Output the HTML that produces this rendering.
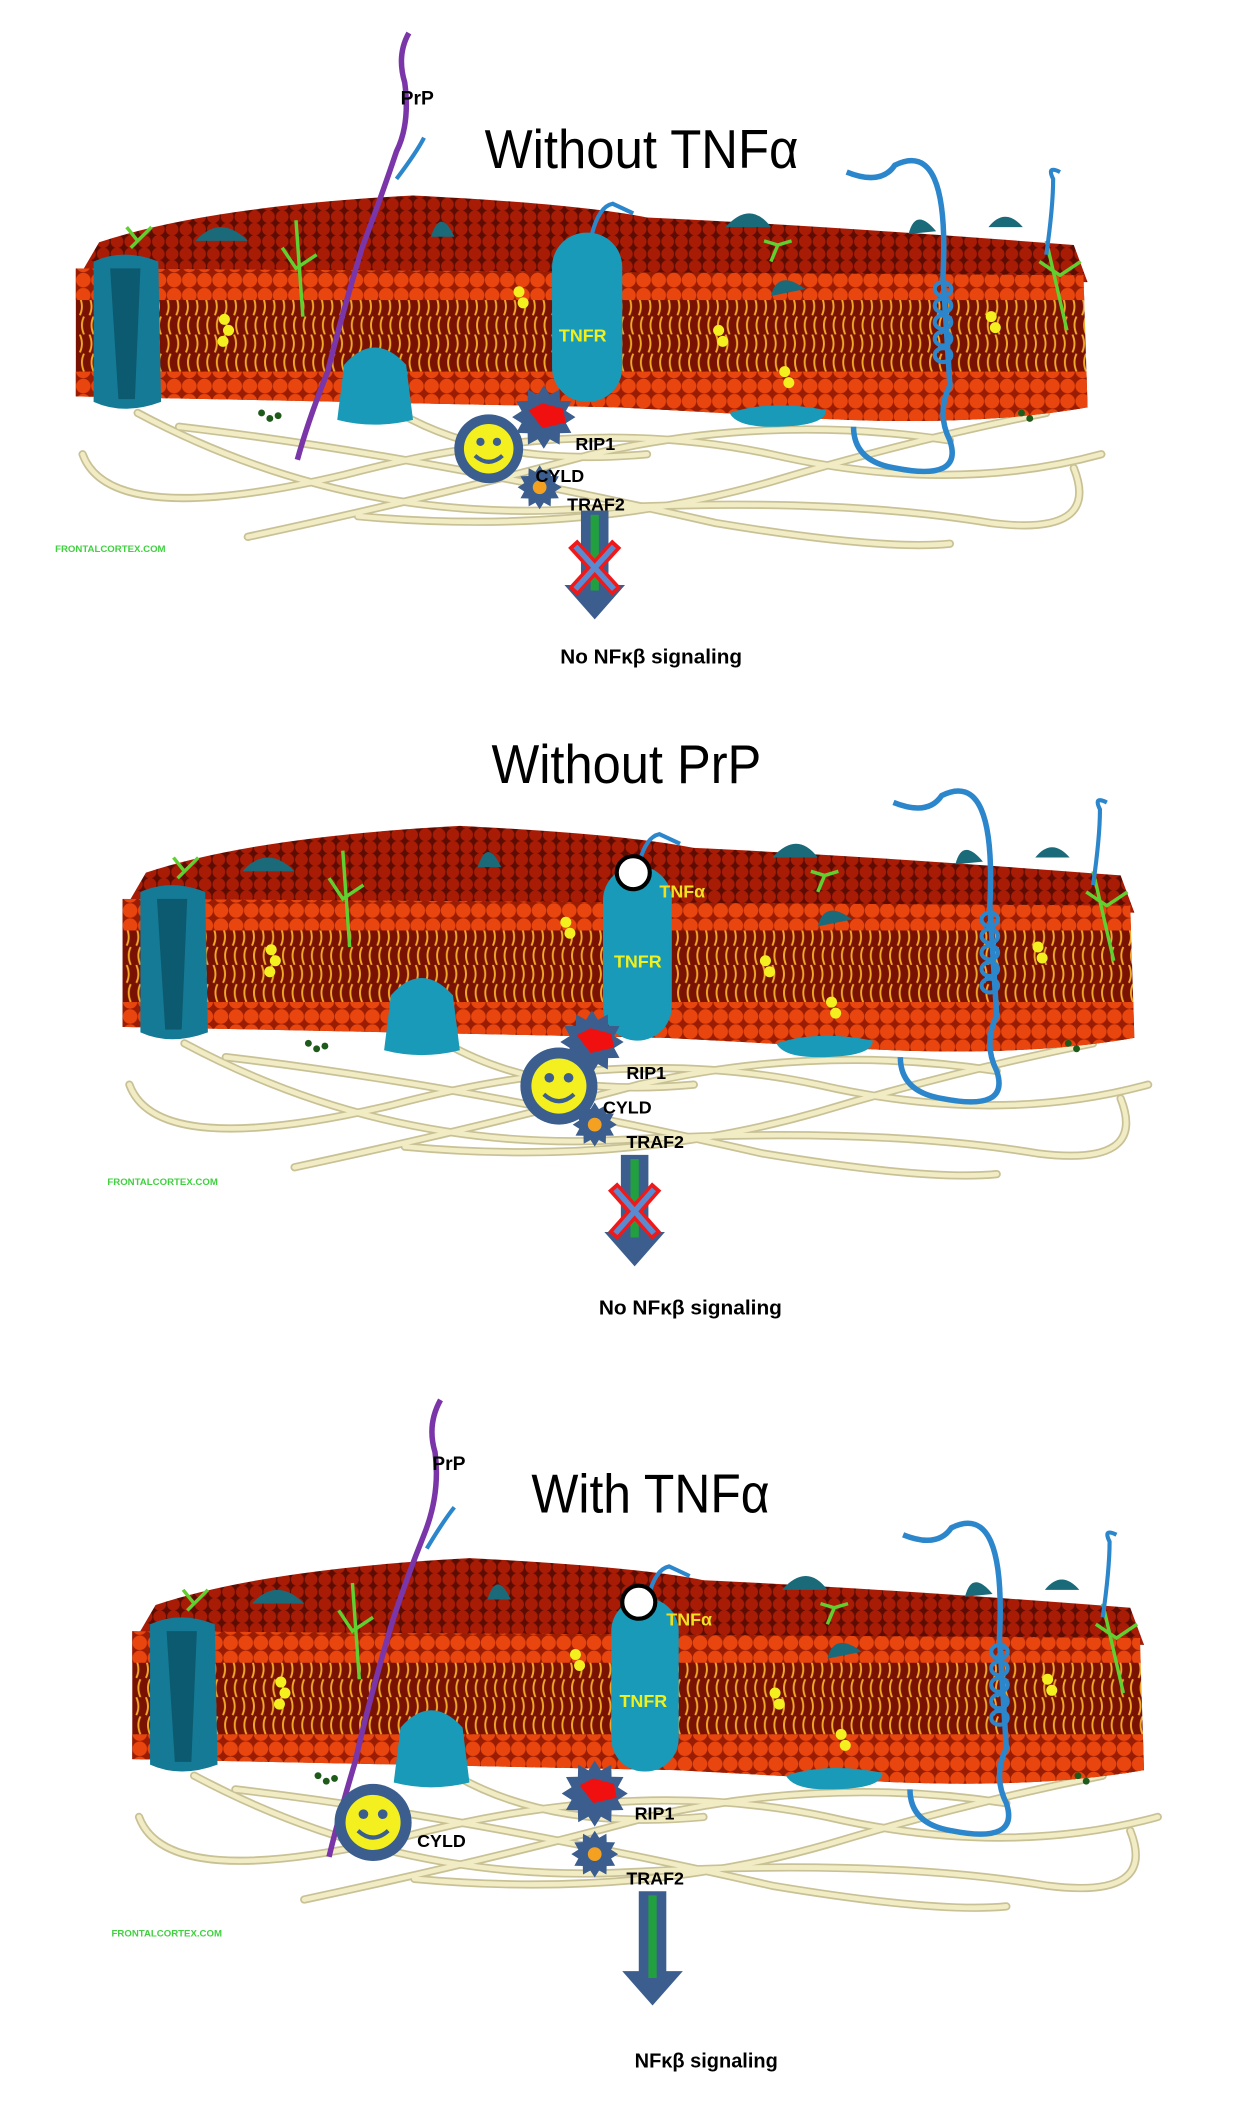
<!DOCTYPE html>
<html><head><meta charset="utf-8"><style>
html,body{margin:0;padding:0;background:#fff;}
svg{display:block;}
text{font-family:"Liberation Sans",sans-serif;}
</style></head><body>
<svg width="1239" height="2106" viewBox="0 0 900 1530" preserveAspectRatio="none" xmlns="http://www.w3.org/2000/svg">
<defs>
<pattern id="heads" width="11" height="11" patternUnits="userSpaceOnUse">
<rect width="11" height="11" fill="#9a1c02"/><circle cx="5.5" cy="5.5" r="5.3" fill="#e8460e"/>
</pattern>
<pattern id="tophead" width="10" height="9" patternUnits="userSpaceOnUse">
<rect width="10" height="9" fill="#5e0c02"/><circle cx="5" cy="4.5" r="4.6" fill="#a81c06"/>
</pattern>
<pattern id="tails" width="7" height="27" patternUnits="userSpaceOnUse">
<rect width="7" height="27" fill="#7a1204"/>
<path d="M2,0 Q5,7 2,13 M5,14 Q2,20 5,27" stroke="#f0a828" stroke-width="1.4" fill="none"/>
</pattern>
<symbol id="star" viewBox="-1 -1 2 2">
<polygon fill="#3b5e8e" points="1,0 .70,.19 .87,.5 .51,.51 .5,.87 .19,.70 0,1 -.19,.70 -.5,.87 -.51,.51 -.87,.5 -.70,.19 -1,0 -.70,-.19 -.87,-.5 -.51,-.51 -.5,-.87 -.19,-.70 0,-1 .19,-.70 .5,-.87 .51,-.51 .87,-.5 .70,-.19"/>
</symbol>
<g id="fil">
<g fill="none" stroke="#c9c196" stroke-width="6" stroke-linecap="round">
<path d="M60,330 Q80,385 250,345 Q420,300 560,330 Q690,360 800,330"/>
<path d="M100,300 Q250,380 420,370 Q600,360 720,380 Q800,390 780,340"/>
<path d="M180,390 Q320,360 430,330 Q560,300 690,320"/>
<path d="M130,310 Q300,330 520,380 Q640,400 690,395"/>
<path d="M260,375 Q420,390 560,350 Q660,320 760,300"/>
<path d="M290,300 Q360,340 470,330"/>
</g>
<g fill="none" stroke="#f2ecc4" stroke-width="3.5" stroke-linecap="round">
<path d="M60,330 Q80,385 250,345 Q420,300 560,330 Q690,360 800,330"/>
<path d="M100,300 Q250,380 420,370 Q600,360 720,380 Q800,390 780,340"/>
<path d="M180,390 Q320,360 430,330 Q560,300 690,320"/>
<path d="M130,310 Q300,330 520,380 Q640,400 690,395"/>
<path d="M260,375 Q420,390 560,350 Q660,320 760,300"/>
<path d="M290,300 Q360,340 470,330"/>
</g>
</g>
<clipPath id="front"><path d="M55,195 L787,200 L790,296 Q700,312 560,302 L450,296 L55,288 Z"/></clipPath>
<g id="mem">
<use href="#fil"/>
<path d="M58,200 L72,176 Q150,150 300,142 Q420,148 470,158 Q600,164 780,178 L790,205 Z" fill="url(#tophead)"/>
<g clip-path="url(#front)">
<rect x="40" y="190" width="780" height="130" fill="url(#tails)"/>
<rect x="40" y="188" width="780" height="30" fill="url(#heads)"/>
<rect x="40" y="270" width="780" height="45" fill="url(#heads)"/>
</g>
<path d="M68,190 Q90,180 115,190 L117,292 Q90,302 68,292 Z" fill="#157a96"/>
<path d="M80,195 L102,195 L98,290 L86,290 Z" fill="#0c5a70"/>
<path d="M245,305 L250,265 Q272,240 295,265 L300,305 Q272,312 245,305 Z" fill="#189ab8"/>
<path d="M142,175 Q160,155 180,175 Z" fill="#1a6a7a"/>
<path d="M313,172 Q320,150 330,172 Z" fill="#1a6a7a"/>
<path d="M527,165 Q545,145 560,165 Z" fill="#1a6a7a"/>
<path d="M660,170 Q665,150 680,168 Z" fill="#1a6a7a"/>
<path d="M718,165 Q730,150 743,165 Z" fill="#1a6a7a"/>
<path d="M560,215 Q565,195 585,210 Z" fill="#1a6a7a"/>
<path d="M530,300 Q560,290 600,298 Q600,310 560,310 Q535,310 530,300Z" fill="#189ab8"/>
<g stroke="#60d030" stroke-width="2.5" fill="none">
<path d="M215,160 L220,230 M205,180 L215,195 L230,185"/>
<path d="M95,180 L110,165 M100,175 L92,165"/>
<path d="M760,175 L775,240 M755,190 L770,200 L785,190"/>
<path d="M560,190 L565,178 L575,175 M565,178 L555,175"/>
</g>
<g fill="#f4f020">
<circle cx="163" cy="232" r="4"/><circle cx="166" cy="240" r="4"/><circle cx="162" cy="248" r="4"/>
<circle cx="377" cy="212" r="4"/><circle cx="380" cy="220" r="4"/>
<circle cx="522" cy="240" r="4"/><circle cx="525" cy="248" r="4"/>
<circle cx="570" cy="270" r="4"/><circle cx="573" cy="278" r="4"/>
<circle cx="720" cy="230" r="4"/><circle cx="723" cy="238" r="4"/>
</g>
<g fill="#1e5a1a"><circle cx="190" cy="300" r="2.5"/><circle cx="196" cy="304" r="2.5"/><circle cx="202" cy="302" r="2.5"/><circle cx="742" cy="300" r="2.5"/><circle cx="748" cy="304" r="2.5"/></g>
<path d="M615,125 Q640,135 650,120 Q690,100 685,200 L690,280 Q680,300 690,320 Q700,350 650,340 Q620,335 620,310" stroke="#2c86cc" stroke-width="4" fill="none"/>
<g stroke="#2c86cc" stroke-width="3" fill="none">
<ellipse cx="685" cy="210" rx="6" ry="5"/><ellipse cx="685" cy="222" rx="6" ry="5"/><ellipse cx="685" cy="234" rx="6" ry="5"/><ellipse cx="685" cy="246" rx="6" ry="5"/><ellipse cx="685" cy="258" rx="6" ry="5"/>
</g>
<path d="M760,185 Q765,150 765,130 Q760,120 770,125" stroke="#2c86cc" stroke-width="3" fill="none"/>
<path d="M430,170 Q435,150 445,148 L460,155" stroke="#2c86cc" stroke-width="3" fill="none"/>
</g>
</defs>

<!-- PANEL 1 -->
<use href="#mem"/>
<path d="M297,24 Q288,40 294,60 Q298,90 288,110 Q278,140 263,180 Q248,230 238,270 Q224,305 216,334" stroke="#7a36a8" stroke-width="4" fill="none"/>
<path d="M288,130 Q303,110 308,100" stroke="#2c86cc" stroke-width="3" fill="none"/>
<rect x="401" y="169" width="51" height="123" rx="25" fill="#189ab8"/>
<text x="406" y="248" font-size="13" font-weight="bold" fill="#f0f020">TNFR</text>
<use href="#star" x="372" y="280" width="46" height="46"/>
<path d="M384,298 L394,293 L409,297 L411,307 L394,311 Z" fill="#f01010"/>
<circle cx="355" cy="326" r="25" fill="#3b5e8e"/>
<circle cx="355" cy="326" r="18" fill="#f4f020"/>
<circle cx="349" cy="321" r="3" fill="#3b5e8e"/><circle cx="361" cy="321" r="3" fill="#3b5e8e"/>
<path d="M345,331 Q355,340 365,331" stroke="#3b5e8e" stroke-width="3" fill="none"/>
<use href="#star" x="376" y="338" width="32" height="32"/>
<circle cx="392" cy="354" r="5" fill="#f4a020"/>
<text x="418" y="327" font-size="13" font-weight="bold">RIP1</text>
<text x="389" y="350" font-size="13" font-weight="bold">CYLD</text>
<text x="412" y="371" font-size="13" font-weight="bold">TRAF2</text>
<path d="M422,371 L442,371 L442,425 L454,425 L432,450 L410,425 L422,425 Z" fill="#3b5e8e"/>
<rect x="429" y="374" width="6" height="55" fill="#22a040"/>
<path d="M416,395 L448,430 M448,395 L416,430" stroke="#f01818" stroke-width="9"/>
<path d="M418,397 L446,428 M446,397 L418,428" stroke="#5a8ad0" stroke-width="4"/>
<text x="352" y="122" font-size="40" textLength="228" lengthAdjust="spacingAndGlyphs">Without TNFα</text>
<text x="291" y="76" font-size="14" font-weight="bold">PrP</text>
<text x="40" y="401" font-size="7" font-weight="bold" fill="#40d040">FRONTALCORTEX.COM</text>
<text x="407" y="482" font-size="15" font-weight="bold" textLength="132" lengthAdjust="spacingAndGlyphs">No NFκβ signaling</text>

<!-- PANEL 2 -->
<use href="#mem" transform="translate(34,458)"/>
<rect x="438" y="629" width="50" height="127" rx="25" fill="#189ab8"/>
<circle cx="460" cy="634" r="12" fill="#fff" stroke="#000" stroke-width="3"/>
<text x="479" y="652" font-size="13" font-weight="bold" fill="#f0e020" font-family="Liberation Serif">TNFα</text>
<text x="446" y="703" font-size="13" font-weight="bold" fill="#f0f020">TNFR</text>
<use href="#star" x="407" y="734" width="46" height="46"/>
<path d="M419,752 L429,747 L444,751 L446,761 L429,765 Z" fill="#f01010"/>
<circle cx="406" cy="789" r="28" fill="#3b5e8e"/>
<circle cx="406" cy="789" r="20" fill="#f4f020"/>
<circle cx="399" cy="783" r="3.5" fill="#3b5e8e"/><circle cx="413" cy="783" r="3.5" fill="#3b5e8e"/>
<path d="M395,795 Q406,805 417,795" stroke="#3b5e8e" stroke-width="3" fill="none"/>
<use href="#star" x="416" y="801" width="32" height="32"/>
<circle cx="432" cy="817" r="5" fill="#f4a020"/>
<text x="455" y="784" font-size="13" font-weight="bold">RIP1</text>
<text x="438" y="809" font-size="13" font-weight="bold">CYLD</text>
<text x="455" y="834" font-size="13" font-weight="bold">TRAF2</text>
<path d="M451,839 L471,839 L471,895 L483,895 L461,920 L439,895 L451,895 Z" fill="#3b5e8e"/>
<rect x="458" y="842" width="6" height="57" fill="#22a040"/>
<path d="M445,862 L477,898 M477,862 L445,898" stroke="#f01818" stroke-width="9"/>
<path d="M447,864 L475,896 M475,864 L447,896" stroke="#5a8ad0" stroke-width="4"/>
<text x="357" y="569" font-size="40" textLength="196" lengthAdjust="spacingAndGlyphs">Without PrP</text>
<text x="78" y="861" font-size="7" font-weight="bold" fill="#40d040">FRONTALCORTEX.COM</text>
<text x="435" y="955" font-size="15" font-weight="bold" textLength="133" lengthAdjust="spacingAndGlyphs">No NFκβ signaling</text>

<!-- PANEL 3 -->
<use href="#mem" transform="translate(41,990)"/>
<path d="M320,1017 Q310,1035 316,1055 Q320,1085 308,1115 Q296,1145 286,1175 Q268,1235 258,1280 Q246,1320 239,1349" stroke="#7a36a8" stroke-width="4" fill="none"/>
<path d="M310,1125 Q322,1105 330,1095" stroke="#2c86cc" stroke-width="3" fill="none"/>
<rect x="444" y="1161" width="49" height="126" rx="24" fill="#189ab8"/>
<circle cx="464" cy="1164" r="12" fill="#fff" stroke="#000" stroke-width="3"/>
<text x="484" y="1181" font-size="13" font-weight="bold" fill="#f0e020" font-family="Liberation Serif">TNFα</text>
<text x="450" y="1240" font-size="13" font-weight="bold" fill="#f0f020">TNFR</text>
<use href="#star" x="408" y="1279" width="48" height="48"/>
<path d="M421,1297 L431,1292 L446,1296 L448,1306 L431,1310 Z" fill="#f01010"/>
<circle cx="271" cy="1324" r="28" fill="#3b5e8e"/>
<circle cx="271" cy="1324" r="20" fill="#f4f020"/>
<circle cx="264" cy="1318" r="3.5" fill="#3b5e8e"/><circle cx="278" cy="1318" r="3.5" fill="#3b5e8e"/>
<path d="M260,1330 Q271,1340 282,1330" stroke="#3b5e8e" stroke-width="3" fill="none"/>
<use href="#star" x="415" y="1330" width="34" height="34"/>
<circle cx="432" cy="1347" r="5" fill="#f4a020"/>
<text x="461" y="1322" font-size="13" font-weight="bold">RIP1</text>
<text x="303" y="1342" font-size="13" font-weight="bold">CYLD</text>
<text x="455" y="1369" font-size="13" font-weight="bold">TRAF2</text>
<path d="M464,1374 L484,1374 L484,1432 L496,1432 L474,1457 L452,1432 L464,1432 Z" fill="#3b5e8e"/>
<rect x="471" y="1377" width="6" height="60" fill="#22a040"/>
<text x="386" y="1099" font-size="40" textLength="173" lengthAdjust="spacingAndGlyphs">With TNFα</text>
<text x="314" y="1068" font-size="14" font-weight="bold">PrP</text>
<text x="81" y="1407" font-size="7" font-weight="bold" fill="#40d040">FRONTALCORTEX.COM</text>
<text x="461" y="1502" font-size="15" font-weight="bold" textLength="104" lengthAdjust="spacingAndGlyphs">NFκβ signaling</text>
</svg>
</body></html>
